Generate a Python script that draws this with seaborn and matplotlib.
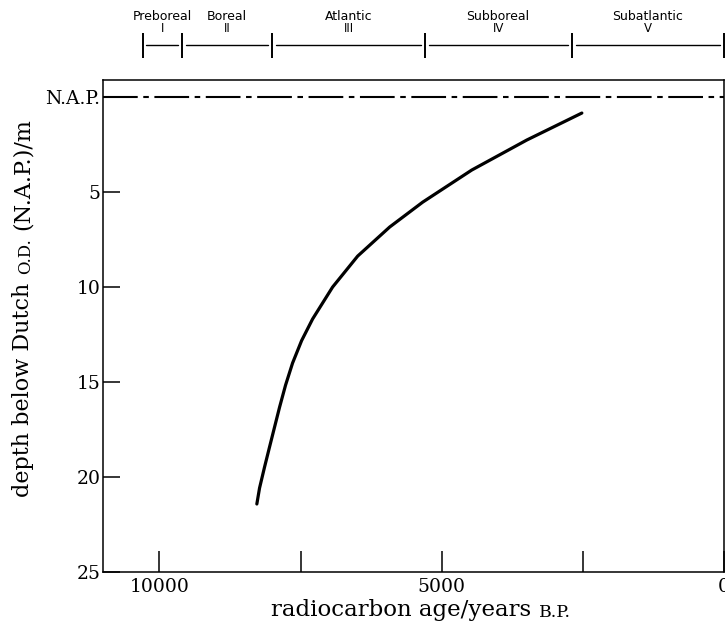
import seaborn as sns
import matplotlib.pyplot as plt

# period zones (radiocarbon years B.P.)
period_names = ["Preboreal", "Boreal", "Atlantic", "Subboreal", "Subatlantic"]
period_numerals = ["I", "II", "III", "IV", "V"]
period_bounds = [10300, 9600, 8000, 5300, 2700, 0]

# curve
age = [8275, 8227, 8138, 8050, 7961, 7872, 7766, 7642, 7482, 7287, 6933, 6489,
       5922, 5337, 4468, 3493, 2518]
depth = [21.42, 20.58, 19.47, 18.42, 17.37, 16.32, 15.16, 14.0, 12.82, 11.68, 10.0, 8.37,
         6.84, 5.53, 3.84, 2.26, 0.84]

x_ticks = [10000, 7500, 5000, 2500, 0]
x_ticklabels = ["10000", "", "5000", "", "0"]
y_ticks = [0, 5, 10, 15, 20, 25]
y_ticklabels = ["N.A.P.", "5", "10", "15", "20", "25"]

sns.set_style("ticks")
plt.rcParams['font.family'] = ['DejaVu Serif']
plt.rcParams['lines.scale_dashes'] = False
plt.rcParams['text.color'] = 'black'
plt.rcParams['xtick.color'] = 'black'
plt.rcParams['ytick.color'] = 'black'

W, H = 725, 627
fig = plt.figure(figsize=(W / 100, H / 100), dpi=100)
left, right, bottom, top = 103 / W, 724 / W, 1 - 572 / H, 1 - 80 / H
ax = fig.add_axes([left, bottom, right - left, top - bottom])

# sea level curve
sns.lineplot(x=age, y=depth, ax=ax, color="black", lw=2.3, sort=False)
ax.lines[-1].set_solid_joinstyle("round")

# N.A.P. reference level
ax.axhline(0, color="black", lw=1.5, dashes=(25, 4, 4, 4))

ax.set_xlim(11000, 0)
ax.set_ylim(25, -0.9)
ax.set_xticks(x_ticks)
ax.set_xticklabels(x_ticklabels)
ax.set_yticks(y_ticks)
ax.set_yticklabels(y_ticklabels)
ax.tick_params(axis="x", direction="in", length=15, width=1.1, labelsize=13.5, pad=4)
ax.tick_params(axis="y", direction="in", length=12, width=1.1, labelsize=13.5, pad=2)
for s in ax.spines.values():
    s.set_linewidth(1.1)
    s.set_color("black")
ax.set_xlabel("")
ax.set_ylabel("")

# axis labels with small caps parts
t1 = ax.text(271 / W, 1 - 616 / H, "radiocarbon age/years", transform=fig.transFigure,
             ha="left", va="baseline", fontsize=16.5)
ax.annotate("B.P.", xy=(1, 0), xycoords=t1, xytext=(6, 0), textcoords="offset points",
            ha="left", va="bottom", fontsize=12.5, annotation_clip=False)

t2 = ax.text(34 / W, 1 - 497 / H, "depth below Dutch", transform=fig.transFigure,
             ha="right", va="bottom", rotation=90, fontsize=16)
t3 = ax.annotate("O.D.", xy=(1, 1), xycoords=t2, xytext=(0, 6), textcoords="offset points",
                 ha="right", va="bottom", rotation=90, fontsize=12, annotation_clip=False)
ax.annotate("(N.A.P.)/m", xy=(1, 1), xycoords=t3, xytext=(0, 6), textcoords="offset points",
            ha="right", va="bottom", rotation=90, fontsize=16, annotation_clip=False)

# period bar above the plot
ax_top = fig.add_axes([left, 1 - 62 / H, right - left, 62 / H], sharex=ax)
ax_top.axis("off")
ax_top.set_ylim(62, 0)
gap = 70
for i, name in enumerate(period_names):
    lo, hi = period_bounds[i], period_bounds[i + 1]
    mid = (lo + hi) / 2
    ax_top.plot([lo - gap, hi + gap], [45, 45], color="black", lw=1.0, clip_on=False)
    ax_top.text(mid, 16, name, ha="center", va="center", fontsize=9, family="DejaVu Sans")
    ax_top.text(mid, 29, period_numerals[i], ha="center", va="center", fontsize=8.5,
                family="DejaVu Sans")
ax_top.vlines(period_bounds, 33, 58, color="black", lw=1.4, clip_on=False)

fig.savefig("out.png", dpi=100)
